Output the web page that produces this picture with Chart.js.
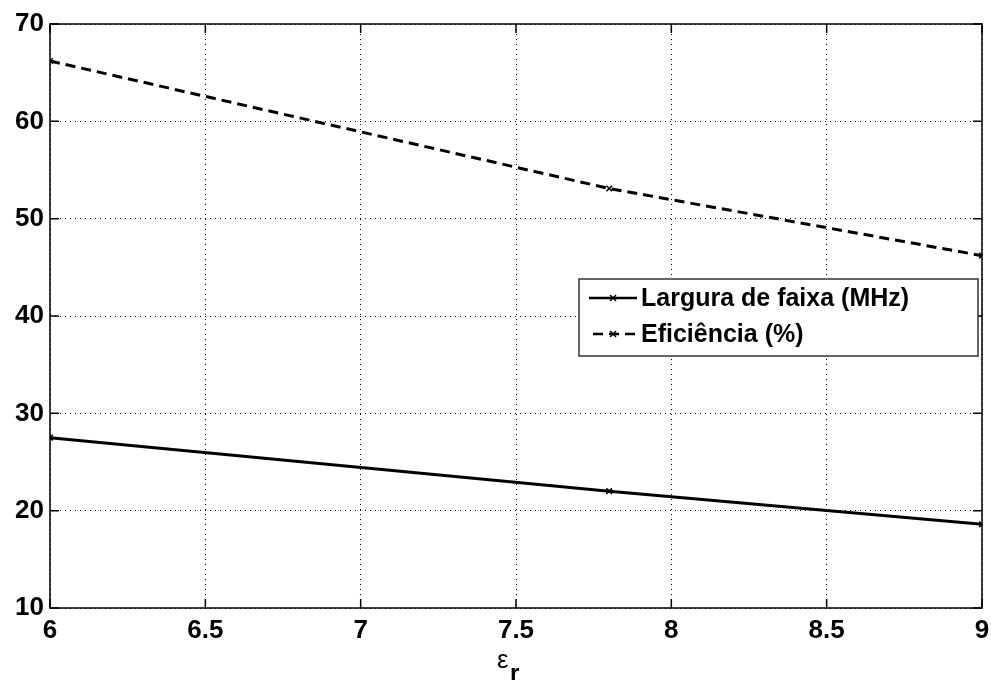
<!DOCTYPE html>
<html>
<head>
<meta charset="utf-8">
<script src="https://cdn.jsdelivr.net/npm/chart.js@4/dist/chart.umd.min.js"></script>
<style>
  html, body { margin: 0; padding: 0; background: #fff; }
  #wrap { width: 991px; height: 680px; }
</style>
</head>
<body>
<div id="wrap"><canvas id="chart" width="991" height="680"></canvas></div>
<script>
const epsR = [6, 7.8, 9];
const largura = [27.5, 22.0, 18.6];
const eficiencia = [66.2, 53.1, 46.2];
const seriesLabels = ['Largura de faixa (MHz)', 'Eficiência (%)'];
const xRange = [6, 9];
const yRange = [10, 70];

const FONT = '"Liberation Sans", Arial, sans-serif';

function toPoints(ys) {
    return epsR.map((x, i) => ({ x: x, y: ys[i] }));
}

// box, inward ticks, legend and axis label drawn after the chart
const matlabLook = {
    id: 'matlabLook',
    afterDraw(chart) {
        const ctx = chart.ctx;
        const a = chart.chartArea;
        const xs = chart.scales.x;
        const ys = chart.scales.y;

        ctx.save();
        ctx.strokeStyle = '#000';
        ctx.lineWidth = 1.5;
        ctx.setLineDash([]);
        ctx.strokeRect(a.left, a.top, a.right - a.left, a.bottom - a.top);

        // inward tick marks
        ctx.beginPath();
        xs.ticks.forEach(t => {
            const px = xs.getPixelForValue(t.value);
            ctx.moveTo(px, a.bottom); ctx.lineTo(px, a.bottom - 9);
            ctx.moveTo(px, a.top); ctx.lineTo(px, a.top + 9);
        });
        ys.ticks.forEach(t => {
            const py = ys.getPixelForValue(t.value);
            ctx.moveTo(a.left, py); ctx.lineTo(a.left + 9, py);
            ctx.moveTo(a.right, py); ctx.lineTo(a.right - 9, py);
        });
        ctx.stroke();

        // legend
        const lx = 579, ly = 279, lw = 399, lh = 77;
        ctx.fillStyle = '#fff';
        ctx.fillRect(lx, ly, lw, lh);
        ctx.lineWidth = 1.5;
        ctx.strokeStyle = '#333';
        ctx.strokeRect(lx, ly, lw, lh);

        const rows = [298, 334];
        chart.data.datasets.forEach((ds, i) => {
            const y = rows[i];
            ctx.strokeStyle = '#000';
            ctx.lineWidth = 2.5;
            ctx.setLineDash(ds.borderDash || []);
            ctx.beginPath();
            if (i === 0) { ctx.moveTo(589, y); ctx.lineTo(637, y); }
            else { ctx.moveTo(593, y); ctx.lineTo(637, y); }
            ctx.stroke();
            ctx.setLineDash([]);
            ctx.lineWidth = 1.5;
            ctx.beginPath();
            ctx.moveTo(610, y - 3); ctx.lineTo(616, y + 3);
            ctx.moveTo(616, y - 3); ctx.lineTo(610, y + 3);
            ctx.stroke();

            ctx.fillStyle = '#000';
            ctx.font = 'bold 25px ' + FONT;
            ctx.textAlign = 'left';
            ctx.textBaseline = 'middle';
            ctx.fillText(ds.label, 641, y + 1);
        });

        // x axis label: epsilon with subscript r
        ctx.fillStyle = '#000';
        ctx.textBaseline = 'alphabetic';
        ctx.textAlign = 'left';
        ctx.font = '26px ' + FONT;
        ctx.fillText('ε', 497, 668);
        ctx.font = 'bold 24px ' + FONT;
        ctx.fillText('r', 510, 681);
        ctx.restore();
    }
};

const ctx = document.getElementById('chart');
new Chart(ctx, {
    type: 'line',
    data: {
        datasets: [
            {
                label: seriesLabels[0],
                data: toPoints(largura),
                borderColor: '#000',
                backgroundColor: '#000',
                borderWidth: 3,
                pointStyle: 'crossRot',
                pointRadius: 4,
                pointBorderWidth: 1.5,
                tension: 0,
                fill: false
            },
            {
                label: seriesLabels[1],
                data: toPoints(eficiencia),
                borderColor: '#000',
                backgroundColor: '#000',
                borderWidth: 3,
                borderDash: [10, 6],
                pointStyle: 'crossRot',
                pointRadius: 4,
                pointBorderWidth: 1.5,
                tension: 0,
                fill: false
            }
        ]
    },
    options: {
        responsive: false,
        animation: false,
        layout: { padding: { top: 24, right: 9, left: 0, bottom: 0 } },
        plugins: {
            legend: { display: false },
            tooltip: { enabled: false }
        },
        scales: {
            x: {
                type: 'linear',
                min: xRange[0],
                max: xRange[1],
                afterFit: s => { s.height = 72; s.paddingRight = 0; },
                ticks: {
                    stepSize: 0.5,
                    color: '#000',
                    padding: 7,
                    font: { family: FONT, size: 26, weight: 'bold' },
                    callback: v => String(v)
                },
                grid: {
                    color: '#000',
                    lineWidth: 1,
                    drawTicks: false
                },
                border: { display: false, dash: [1, 4] }
            },
            y: {
                min: yRange[0],
                max: yRange[1],
                afterFit: s => { s.width = 50; },
                ticks: {
                    stepSize: 10,
                    color: '#000',
                    padding: 6,
                    font: { family: FONT, size: 26, weight: 'bold' }
                },
                grid: {
                    color: '#000',
                    lineWidth: 1,
                    drawTicks: false
                },
                border: { display: false, dash: [1, 4] }
            }
        }
    },
    plugins: [matlabLook]
});
</script>
</body>
</html>
